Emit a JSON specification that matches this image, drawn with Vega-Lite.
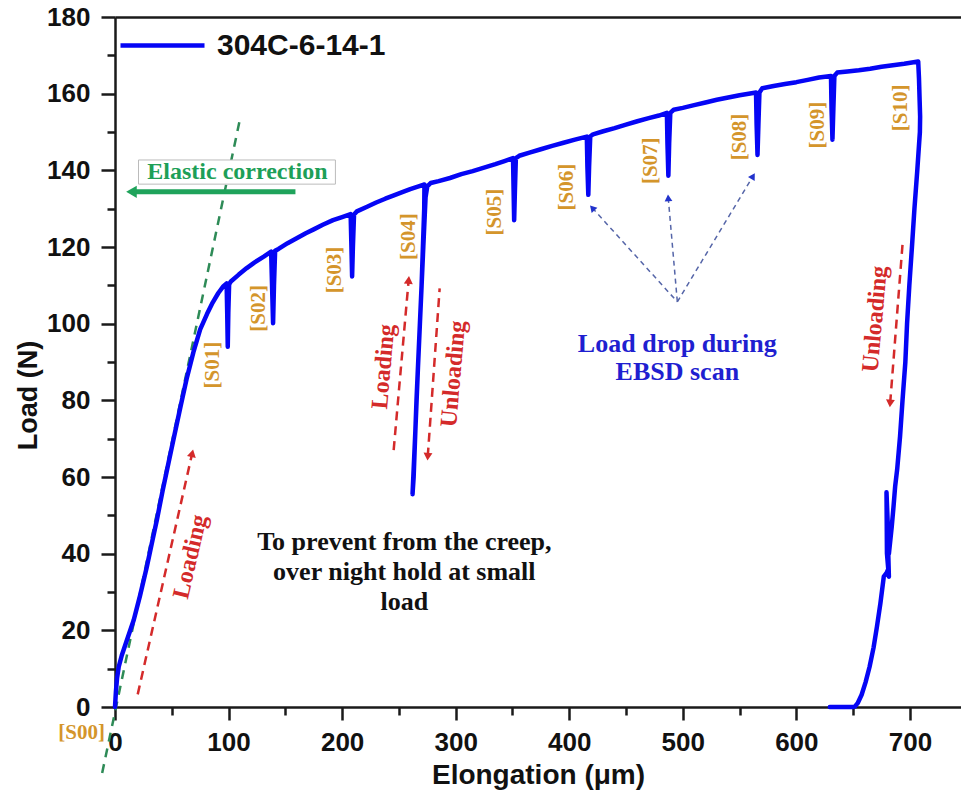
{
  "$schema": "https://vega.github.io/schema/vega-lite/v6.json",
  "width": 846,
  "height": 690,
  "autosize": "none",
  "padding": {"left": 115, "top": 17, "right": 0, "bottom": 87},
  "background": "white",
  "config": {
    "view": {"stroke": null},
    "axis": {"grid": false, "domainColor": "#1a1a1a", "tickColor": "#1a1a1a", "domainWidth": 2.5, "tickWidth": 2.5, "labelFont": "Liberation Sans", "labelFontWeight": "bold", "labelColor": "#111", "titleFont": "Liberation Sans", "titleFontWeight": "bold", "titleColor": "#111", "labelFlush": false, "labelOverlap": false}
  },
  "datasets": {
    "curve": [
      {"i":0,"x":0,"y":0},{"i":1,"x":0.8,"y":4},{"i":2,"x":1.8,"y":7.5},{"i":3,"x":3.3,"y":10.5},{"i":4,"x":6,"y":13.5},{"i":5,"x":10,"y":17},{"i":6,"x":16.5,"y":22.7},{"i":7,"x":22,"y":29},{"i":8,"x":28,"y":36.5},{"i":9,"x":33,"y":43.5},{"i":10,"x":37,"y":49},{"i":11,"x":42,"y":56.5},{"i":12,"x":47,"y":63.5},{"i":13,"x":52,"y":70.5},{"i":14,"x":58,"y":78.8},{"i":15,"x":63,"y":85.5},{"i":16,"x":69,"y":92.5},{"i":17,"x":75,"y":98.5},{"i":18,"x":81,"y":102.5},{"i":19,"x":86,"y":105.5},{"i":20,"x":91,"y":108},{"i":21,"x":95.5,"y":109.8},{"i":22,"x":98.3,"y":110.5},
      {"i":23,"x":98.8,"y":103},{"i":24,"x":99.3,"y":94},{"i":25,"x":99.8,"y":103},{"i":26,"x":100.5,"y":110.3},{"i":27,"x":102,"y":111},{"i":28,"x":109,"y":112.8},{"i":29,"x":116,"y":114.5},{"i":30,"x":123,"y":116},{"i":31,"x":131,"y":117.5},{"i":32,"x":137.5,"y":118.8},
      {"i":33,"x":138.3,"y":110},{"i":34,"x":139.2,"y":100.1},{"i":35,"x":140,"y":110},{"i":36,"x":141,"y":119},{"i":37,"x":144,"y":119.5},{"i":38,"x":152,"y":121},{"i":39,"x":160,"y":122.3},{"i":40,"x":168,"y":123.6},{"i":41,"x":175,"y":124.6},{"i":42,"x":183,"y":125.8},{"i":43,"x":192,"y":127},{"i":44,"x":200,"y":127.8},{"i":45,"x":207.5,"y":128.6},
      {"i":46,"x":208.2,"y":120},{"i":47,"x":208.8,"y":112.3},{"i":48,"x":209.5,"y":120},{"i":49,"x":210.5,"y":128.5},{"i":50,"x":213,"y":129.3},{"i":51,"x":222,"y":130.5},{"i":52,"x":230,"y":131.6},{"i":53,"x":238,"y":132.6},{"i":54,"x":245,"y":133.4},{"i":55,"x":253,"y":134.3},{"i":56,"x":260,"y":135.1},{"i":57,"x":266,"y":135.7},{"i":58,"x":272.5,"y":136.3},
      {"i":59,"x":272.3,"y":130},{"i":60,"x":270,"y":110},{"i":61,"x":267,"y":90},{"i":62,"x":264.5,"y":72},{"i":63,"x":262,"y":55.5},{"i":64,"x":263,"y":60},{"i":65,"x":265.5,"y":80},{"i":66,"x":268.5,"y":100},{"i":67,"x":271.5,"y":120},{"i":68,"x":273.5,"y":133},{"i":69,"x":275,"y":135.8},{"i":70,"x":278,"y":136.7},
      {"i":71,"x":285,"y":137.2},{"i":72,"x":295,"y":138},{"i":73,"x":305,"y":139},{"i":74,"x":315,"y":139.8},{"i":75,"x":325,"y":140.7},{"i":76,"x":335,"y":141.6},{"i":77,"x":343,"y":142.4},{"i":78,"x":350.5,"y":143.2},
      {"i":79,"x":351,"y":135},{"i":80,"x":351.5,"y":127},{"i":81,"x":352.2,"y":135},{"i":82,"x":353,"y":143.2},{"i":83,"x":356,"y":143.8},{"i":84,"x":365,"y":144.6},{"i":85,"x":375,"y":145.5},{"i":86,"x":385,"y":146.4},{"i":87,"x":395,"y":147.2},{"i":88,"x":405,"y":148},{"i":89,"x":415.5,"y":148.8},
      {"i":90,"x":416,"y":141},{"i":91,"x":416.8,"y":133.6},{"i":92,"x":417.5,"y":141},{"i":93,"x":418.5,"y":148.8},{"i":94,"x":421,"y":149.4},{"i":95,"x":430,"y":150.2},{"i":96,"x":440,"y":151},{"i":97,"x":450,"y":151.9},{"i":98,"x":460,"y":152.8},{"i":99,"x":470,"y":153.6},{"i":100,"x":479,"y":154.3},{"i":101,"x":486,"y":155},
      {"i":102,"x":486.5,"y":147},{"i":103,"x":487.3,"y":138.6},{"i":104,"x":488,"y":147},{"i":105,"x":489,"y":155},{"i":106,"x":492,"y":155.8},{"i":107,"x":500,"y":156.3},{"i":108,"x":510,"y":157},{"i":109,"x":520,"y":157.7},{"i":110,"x":530,"y":158.4},{"i":111,"x":540,"y":159},{"i":112,"x":550,"y":159.6},{"i":113,"x":558,"y":160},{"i":114,"x":564.5,"y":160.3},
      {"i":115,"x":565,"y":152},{"i":116,"x":565.8,"y":144},{"i":117,"x":566.6,"y":152},{"i":118,"x":567.5,"y":160.3},{"i":119,"x":570,"y":161.4},{"i":120,"x":580,"y":162},{"i":121,"x":590,"y":162.5},{"i":122,"x":600,"y":163},{"i":123,"x":610,"y":163.6},{"i":124,"x":620,"y":164.2},{"i":125,"x":630.5,"y":164.6},
      {"i":126,"x":631,"y":156},{"i":127,"x":631.8,"y":148},{"i":128,"x":632.6,"y":156},{"i":129,"x":633.5,"y":164.6},{"i":130,"x":636,"y":165.5},{"i":131,"x":645,"y":165.8},{"i":132,"x":655,"y":166.1},{"i":133,"x":665,"y":166.5},{"i":134,"x":675,"y":167},{"i":135,"x":685,"y":167.4},{"i":136,"x":695,"y":167.8},{"i":137,"x":707.3,"y":168.4},
      {"i":138,"x":708,"y":164},{"i":139,"x":708.6,"y":158},{"i":140,"x":709,"y":154},{"i":141,"x":708.8,"y":150},{"i":142,"x":706.5,"y":140},{"i":143,"x":704,"y":130},{"i":144,"x":701.8,"y":120},{"i":145,"x":699.5,"y":110},{"i":146,"x":697.5,"y":100},{"i":147,"x":696,"y":90},{"i":148,"x":693.5,"y":80},{"i":149,"x":691.3,"y":70.5},{"i":150,"x":688.8,"y":62},{"i":151,"x":687,"y":57.5},{"i":152,"x":685.5,"y":52},{"i":153,"x":684,"y":47},
      {"i":154,"x":681.5,"y":40},{"i":155,"x":679.4,"y":56},{"i":156,"x":679.8,"y":40},{"i":157,"x":681.5,"y":34},{"i":158,"x":680.5,"y":45},{"i":159,"x":681,"y":36},{"i":160,"x":679.5,"y":35},
      {"i":161,"x":677,"y":34},{"i":162,"x":674,"y":27},{"i":163,"x":671,"y":21},{"i":164,"x":668,"y":15.5},{"i":165,"x":664.5,"y":10.5},{"i":166,"x":661,"y":6.5},{"i":167,"x":657.5,"y":3.2},{"i":168,"x":654,"y":1},{"i":169,"x":651.5,"y":0.1},{"i":170,"x":650,"y":0},{"i":171,"x":640,"y":0},{"i":172,"x":629.5,"y":0}
    ],
    "elastic": [{"x": -11.3, "y": -17.2}, {"x": 110.5, "y": 154}],
    "ebox": [{"x": 20.7, "x2": 194.1, "y": 136.4, "y2": 142.7, "t": "Elastic correction", "tx": 107.8, "ty": 139.6}],
    "garrow": [{"x": 14.5, "x2": 158.9, "y": 134.4}],
    "redArrows": [
      {"a": "A1", "p": "tail", "x": 20, "y": 3.3}, {"a": "A1", "p": "head", "x": 68, "y": 66.2},
      {"a": "A2", "p": "tail", "x": 245.4, "y": 67}, {"a": "A2", "p": "head", "x": 258.6, "y": 111.4},
      {"a": "A3", "p": "tail", "x": 285.9, "y": 109.2}, {"a": "A3", "p": "head", "x": 275.4, "y": 65.3},
      {"a": "A4", "p": "tail", "x": 693.8, "y": 121.8}, {"a": "A4", "p": "head", "x": 682.6, "y": 79.2}
    ],
    "redText": [
      {"a": "A1", "t": "Loading", "x": 66.5, "y": 39.2},
      {"a": "A2", "t": "Loading", "x": 236.6, "y": 88.8},
      {"a": "A3", "t": "Unloading", "x": 298.2, "y": 86.9},
      {"a": "A4", "t": "Unloading", "x": 669.5, "y": 101.2}
    ],
    "slabels": [
      {"t": "[S00]", "x": -29.4, "y": -6.7},
      {"t": "[S01]", "x": 86.4, "y": 89.2},
      {"t": "[S02]", "x": 126.6, "y": 104},
      {"t": "[S03]", "x": 194.1, "y": 114},
      {"t": "[S04]", "x": 258.6, "y": 122.7},
      {"t": "[S05]", "x": 335, "y": 129.1},
      {"t": "[S06]", "x": 398.2, "y": 135.6},
      {"t": "[S07]", "x": 472.3, "y": 142.5},
      {"t": "[S08]", "x": 550.6, "y": 148.7},
      {"t": "[S09]", "x": 619.3, "y": 151.8},
      {"t": "[S10]", "x": 692.3, "y": 156.3}
    ],
    "blueArrows": [
      {"a": "B6", "p": "tail", "x": 495.2, "y": 105.7}, {"a": "B6", "p": "head", "x": 420.3, "y": 130.2},
      {"a": "B7", "p": "tail", "x": 495.2, "y": 105.7}, {"a": "B7", "p": "head", "x": 487.2, "y": 132.8},
      {"a": "B8", "p": "tail", "x": 495.2, "y": 105.7}, {"a": "B8", "p": "head", "x": 561.9, "y": 138.5}
    ],
    "notes": [
      {"k": "blue", "t": "Load drop during\nEBSD scan", "x": 495.2, "y": 94.7},
      {"k": "black", "t": "To prevent from the creep,\nover night hold at small\nload", "x": 254.8, "y": 43.1}
    ]
  },
  "resolve": {"axis": {"x": "independent", "y": "independent"}},
  "layer": [
    {
      "data": {"name": "elastic"},
      "mark": {"type": "line", "color": "#2e8b57", "strokeWidth": 2.5, "strokeDash": [9, 7], "clip": false},
      "encoding": {
        "x": {"field": "x", "type": "quantitative", "scale": {"domain": [0, 745], "nice": false, "zero": false}, "axis": null},
        "y": {"field": "y", "type": "quantitative", "scale": {"domain": [0, 180], "nice": false, "zero": false}, "axis": null}
      }
    },
    {
      "data": {"name": "curve"},
      "mark": {"type": "line", "strokeWidth": 4.5, "strokeJoin": "round", "strokeCap": "round"},
      "encoding": {
        "x": {"field": "x", "type": "quantitative", "axis": {"orient": "bottom", "values": [0, 100, 200, 300, 400, 500, 600, 700], "title": "Elongation (μm)", "tickSize": 13, "labelFontSize": 26, "labelPadding": 9, "titleFontSize": 28, "titleY": 68, "titleBaseline": "middle"}},
        "y": {"field": "y", "type": "quantitative", "axis": {"orient": "left", "values": [0, 20, 40, 60, 80, 100, 120, 140, 160, 180], "title": "Load (N)", "tickSize": 14, "labelFontSize": 26, "labelPadding": 11, "titleFontSize": 27, "titleX": -87, "titleY": 378, "titleBaseline": "middle"}},
        "order": {"field": "i", "type": "quantitative"},
        "color": {"datum": "304C-6-14-1", "type": "nominal", "scale": {"range": ["#0505f5"]}, "legend": {"orient": "none", "legendX": 3, "legendY": -16, "title": null, "symbolType": "stroke", "symbolSize": 7056, "symbolStrokeWidth": 4.5, "labelFontSize": 30, "labelFont": "Liberation Sans", "labelFontWeight": "bold", "labelColor": "#111", "labelOffset": 10, "labelLimit": 400, "padding": 0}}
      }
    },
    {
      "data": {"name": "ebox"},
      "mark": {"type": "rect", "fill": "white", "stroke": "#bbbbbb", "strokeWidth": 1},
      "encoding": {
        "x": {"field": "x", "type": "quantitative", "axis": null}, "x2": {"field": "x2"},
        "y": {"field": "y", "type": "quantitative", "axis": null}, "y2": {"field": "y2"}
      }
    },
    {
      "data": {"name": "ebox"},
      "mark": {"type": "text", "font": "Liberation Serif", "fontWeight": "bold", "fontSize": 24, "color": "#1d9f57", "baseline": "middle", "align": "center"},
      "encoding": {
        "x": {"field": "tx", "type": "quantitative", "axis": null},
        "y": {"field": "ty", "type": "quantitative", "axis": null},
        "text": {"field": "t"}
      }
    },
    {
      "data": {"name": "garrow"},
      "mark": {"type": "rule", "color": "#1fa35b", "strokeWidth": 5},
      "encoding": {
        "x": {"field": "x", "type": "quantitative", "axis": null}, "x2": {"field": "x2"},
        "y": {"field": "y", "type": "quantitative", "axis": null}
      }
    },
    {
      "data": {"name": "garrow"},
      "mark": {"type": "point", "shape": "triangle-left", "filled": true, "opacity": 1, "size": 150, "color": "#1fa35b"},
      "encoding": {
        "x": {"field": "x", "type": "quantitative", "axis": null},
        "y": {"field": "y", "type": "quantitative", "axis": null}
      }
    },
    {
      "data": {"name": "redArrows"},
      "mark": {"type": "line", "color": "#d42a2a", "strokeWidth": 2.5, "strokeDash": [9, 6]},
      "encoding": {
        "x": {"field": "x", "type": "quantitative", "axis": {"orient": "bottom", "values": [50, 150, 250, 350, 450, 550, 650], "tickSize": 8, "labels": false, "domain": false, "title": null}},
        "y": {"field": "y", "type": "quantitative", "axis": {"orient": "left", "values": [10, 30, 50, 70, 90, 110, 130, 150, 170], "tickSize": 8, "labels": false, "domain": false, "title": null}},
        "detail": {"field": "a"}
      }
    },
    {
      "data": {"name": "redArrows"},
      "transform": [{"filter": "datum.p == 'head' && datum.a == 'A1'"}],
      "mark": {"type": "point", "shape": "triangle-up", "filled": true, "opacity": 1, "size": 80, "color": "#d42a2a", "angle": 12.7},
      "encoding": {"x": {"field": "x", "type": "quantitative", "axis": null}, "y": {"field": "y", "type": "quantitative", "axis": null}}
    },
    {
      "data": {"name": "redArrows"},
      "transform": [{"filter": "datum.p == 'head' && datum.a == 'A2'"}],
      "mark": {"type": "point", "shape": "triangle-up", "filled": true, "opacity": 1, "size": 80, "color": "#d42a2a", "angle": 5},
      "encoding": {"x": {"field": "x", "type": "quantitative", "axis": null}, "y": {"field": "y", "type": "quantitative", "axis": null}}
    },
    {
      "data": {"name": "redArrows"},
      "transform": [{"filter": "datum.p == 'head' && datum.a == 'A3'"}],
      "mark": {"type": "point", "shape": "triangle-up", "filled": true, "opacity": 1, "size": 80, "color": "#d42a2a", "angle": 184},
      "encoding": {"x": {"field": "x", "type": "quantitative", "axis": null}, "y": {"field": "y", "type": "quantitative", "axis": null}}
    },
    {
      "data": {"name": "redArrows"},
      "transform": [{"filter": "datum.p == 'head' && datum.a == 'A4'"}],
      "mark": {"type": "point", "shape": "triangle-up", "filled": true, "opacity": 1, "size": 80, "color": "#d42a2a", "angle": 184.5},
      "encoding": {"x": {"field": "x", "type": "quantitative", "axis": null}, "y": {"field": "y", "type": "quantitative", "axis": null}}
    },
    {
      "data": {"name": "redText"},
      "transform": [{"filter": "datum.a == 'A1'"}],
      "mark": {"type": "text", "font": "Liberation Serif", "fontWeight": "bold", "fontSize": 24, "color": "#d42a2a", "angle": 283, "align": "center", "baseline": "middle"},
      "encoding": {"x": {"field": "x", "type": "quantitative", "axis": null}, "y": {"field": "y", "type": "quantitative", "axis": null}, "text": {"field": "t"}}
    },
    {
      "data": {"name": "redText"},
      "transform": [{"filter": "datum.a != 'A1'"}],
      "mark": {"type": "text", "font": "Liberation Serif", "fontWeight": "bold", "fontSize": 24, "color": "#d42a2a", "angle": 275, "align": "center", "baseline": "middle"},
      "encoding": {"x": {"field": "x", "type": "quantitative", "axis": null}, "y": {"field": "y", "type": "quantitative", "axis": null}, "text": {"field": "t"}}
    },
    {
      "data": {"name": "slabels"},
      "transform": [{"filter": "datum.t != '[S00]'"}],
      "mark": {"type": "text", "font": "Liberation Serif", "fontWeight": "bold", "fontSize": 21, "color": "#d4952b", "angle": 270, "align": "center", "baseline": "middle"},
      "encoding": {"x": {"field": "x", "type": "quantitative", "axis": null}, "y": {"field": "y", "type": "quantitative", "axis": null}, "text": {"field": "t"}}
    },
    {
      "data": {"name": "slabels"},
      "transform": [{"filter": "datum.t == '[S00]'"}],
      "mark": {"type": "text", "font": "Liberation Serif", "fontWeight": "bold", "fontSize": 21, "color": "#d4952b", "align": "center", "baseline": "middle", "clip": false},
      "encoding": {"x": {"field": "x", "type": "quantitative", "axis": null}, "y": {"field": "y", "type": "quantitative", "axis": null}, "text": {"field": "t"}}
    },
    {
      "data": {"name": "blueArrows"},
      "mark": {"type": "line", "color": "#5565a8", "strokeWidth": 1.5, "strokeDash": [5, 4]},
      "encoding": {
        "x": {"field": "x", "type": "quantitative", "axis": {"orient": "top", "ticks": false, "labels": false, "domain": true, "title": null}},
        "y": {"field": "y", "type": "quantitative", "axis": null},
        "detail": {"field": "a"}
      }
    },
    {
      "data": {"name": "blueArrows"},
      "transform": [{"filter": "datum.p == 'head' && datum.a == 'B6'"}],
      "mark": {"type": "point", "shape": "triangle-up", "filled": true, "opacity": 1, "size": 60, "color": "#2233cc", "angle": -42.1},
      "encoding": {"x": {"field": "x", "type": "quantitative", "axis": null}, "y": {"field": "y", "type": "quantitative", "axis": null}}
    },
    {
      "data": {"name": "blueArrows"},
      "transform": [{"filter": "datum.p == 'head' && datum.a == 'B7'"}],
      "mark": {"type": "point", "shape": "triangle-up", "filled": true, "opacity": 1, "size": 60, "color": "#2233cc", "angle": -4.9},
      "encoding": {"x": {"field": "x", "type": "quantitative", "axis": null}, "y": {"field": "y", "type": "quantitative", "axis": null}}
    },
    {
      "data": {"name": "blueArrows"},
      "transform": [{"filter": "datum.p == 'head' && datum.a == 'B8'"}],
      "mark": {"type": "point", "shape": "triangle-up", "filled": true, "opacity": 1, "size": 60, "color": "#2233cc", "angle": 31.1},
      "encoding": {"x": {"field": "x", "type": "quantitative", "axis": null}, "y": {"field": "y", "type": "quantitative", "axis": null}}
    },
    {
      "data": {"name": "notes"},
      "transform": [{"filter": "datum.k == 'blue'"}],
      "mark": {"type": "text", "font": "Liberation Serif", "fontWeight": "bold", "fontSize": 26, "color": "#1f1fd0", "align": "center", "baseline": "middle", "lineBreak": "\n", "lineHeight": 28},
      "encoding": {"x": {"field": "x", "type": "quantitative", "axis": null}, "y": {"field": "y", "type": "quantitative", "axis": null}, "text": {"field": "t"}}
    },
    {
      "data": {"name": "notes"},
      "transform": [{"filter": "datum.k == 'black'"}],
      "mark": {"type": "text", "font": "Liberation Serif", "fontWeight": "bold", "fontSize": 26, "color": "#111111", "align": "center", "baseline": "middle", "lineBreak": "\n", "lineHeight": 30},
      "encoding": {"x": {"field": "x", "type": "quantitative", "axis": null}, "y": {"field": "y", "type": "quantitative", "axis": null}, "text": {"field": "t"}}
    }
  ]
}
